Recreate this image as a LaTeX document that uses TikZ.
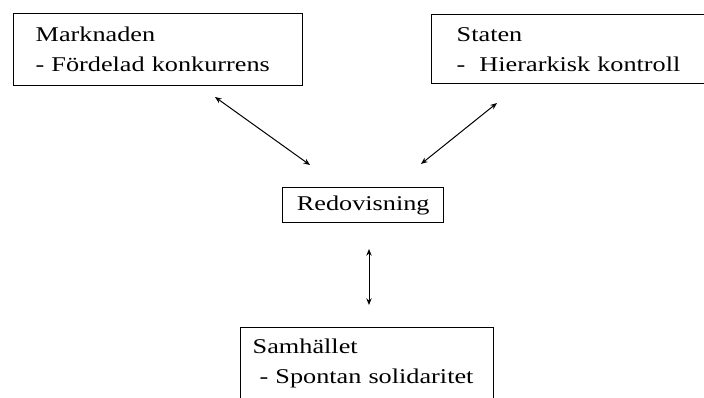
\documentclass[tikz,border=0pt]{standalone}
\usepackage{fontspec}
\setmainfont{Liberation Serif}[FakeStretch=1.25]
\usetikzlibrary{arrows.meta}

\begin{document}
\begin{tikzpicture}[x=0.75pt, y=-0.75pt,
    ruta/.style={draw, line width=1.1pt, anchor=north west, align=left,
        inner ysep=0pt, font=\fontsize{15.75}{22.5}\selectfont},
    pil/.style={{Stealth[length=5pt,width=4pt]}-{Stealth[length=5pt,width=4pt]}, line width=0.75pt}]
    \useasboundingbox (0,0) rectangle (704,397);
    \clip (0,0) rectangle (704,397);

    % rutor
    \node [ruta, inner xsep=16.5pt, text width=183.75pt, minimum height=54pt]
        (marknaden) at (13,13) {Marknaden\\- Fördelad konkurrens};
    \node [ruta, inner xsep=18.75pt, text width=179.25pt, minimum height=51.75pt]
        (staten) at (431,14) {Staten\\-\ \ Hierarkisk kontroll};
    \node [ruta, align=center, inner xsep=0pt, minimum width=120.75pt, minimum height=26.25pt]
        (redovisning) at (282,187) {Redovisning};
    \node [ruta, inner xsep=9pt, text width=171.75pt, minimum height=54pt]
        (samhallet) at (240,327) {Samhället\\\ - Spontan solidaritet};

    % pilar
    \coordinate (m1) at (215,97);
    \coordinate (r1) at (310,165);
    \coordinate (s1) at (497,103);
    \coordinate (r2) at (421,164);
    \coordinate (r3) at (369,249);
    \coordinate (h1) at (369,305);
    \draw [pil] (m1) -- (r1);
    \draw [pil] (s1) -- (r2);
    \draw [pil] (r3) -- (h1);
\end{tikzpicture}
\end{document}
